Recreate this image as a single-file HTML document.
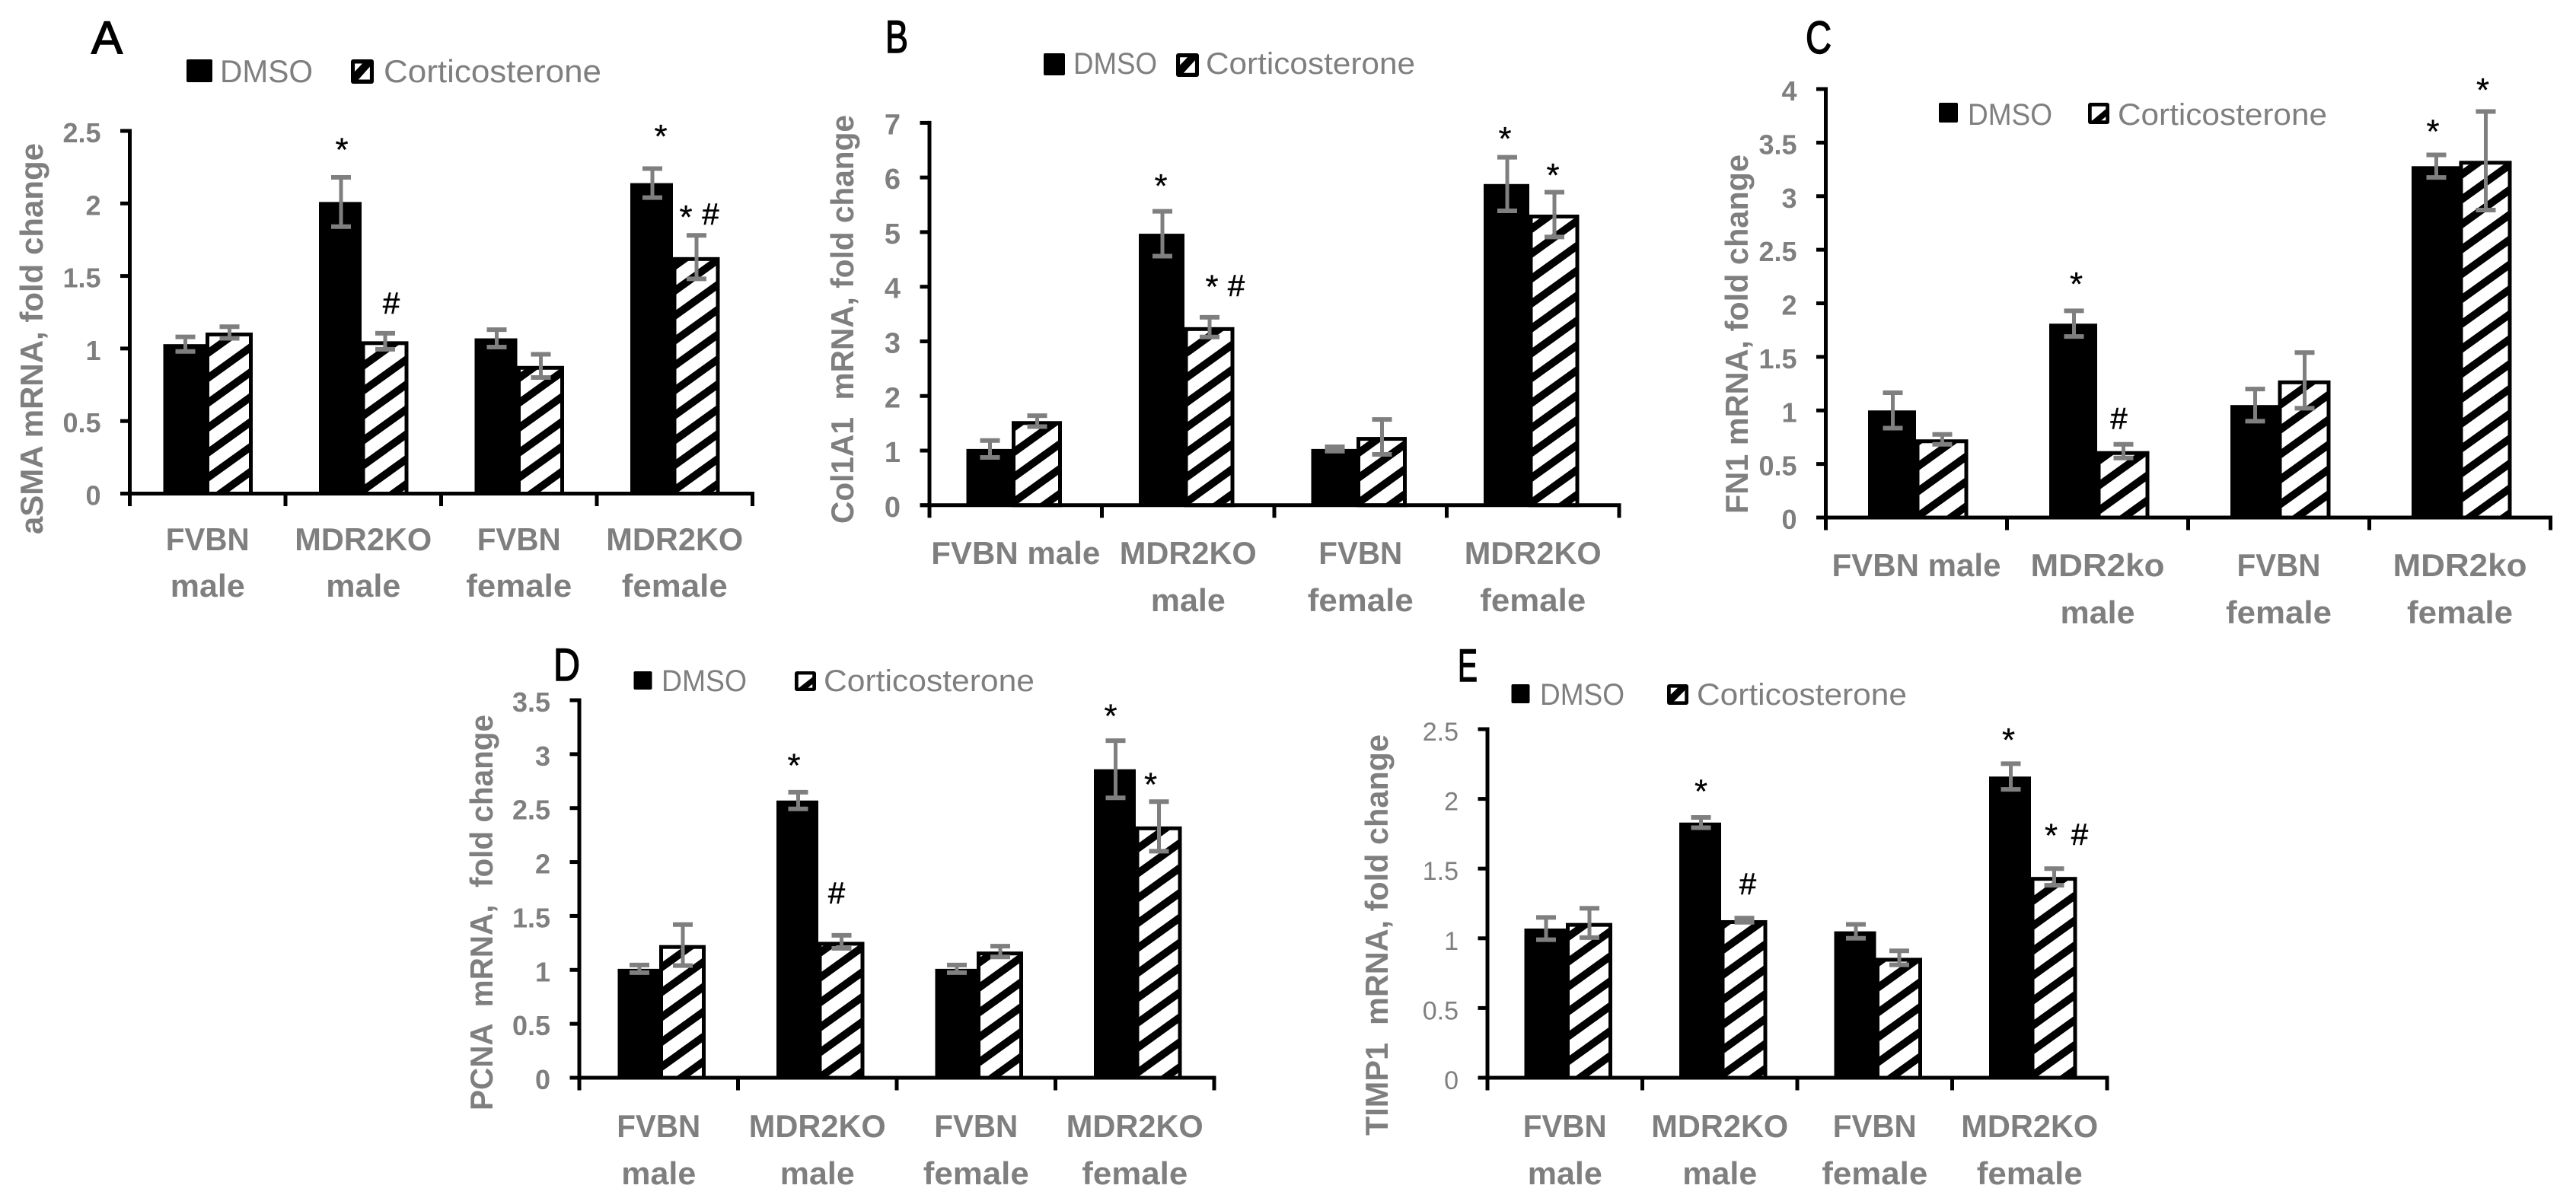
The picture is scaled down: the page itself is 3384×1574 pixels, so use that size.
<!DOCTYPE html>
<html lang="en">
<head>
<meta charset="utf-8">
<title>mRNA fold change charts</title>
<style>
html,body{margin:0;padding:0;background:#fff;}
svg{display:block;font-family:"Liberation Sans",Arial,sans-serif;}
</style>
</head>
<body>
<svg id="figure" xmlns="http://www.w3.org/2000/svg" width="3384" height="1574" viewBox="0 0 3384 1574">
<rect width="3384" height="1574" fill="#ffffff"/>
<defs id="defs"></defs>
</svg>
<script>
// ---------- DATA ----------
const seriesNames = ['DMSO', 'Corticosterone'];

const categoriesA = ['FVBN|male', 'MDR2KO|male', 'FVBN|female', 'MDR2KO|female'];
const dmsoA = [1.03, 2.01, 1.07, 2.14];
const cortA = [1.11, 1.05, 0.88, 1.63];
const dmsoErrA = [0.05, 0.17, 0.06, 0.10];
const cortErrA = [0.04, 0.055, 0.08, 0.15];
const ticksA = [0, 0.5, 1, 1.5, 2, 2.5];
const titleA = 'aSMA mRNA, fold change';

const categoriesB = ['FVBN male', 'MDR2KO|male', 'FVBN|female', 'MDR2KO|female'];
const dmsoB = [1.03, 4.97, 1.03, 5.88];
const cortB = [1.54, 3.26, 1.25, 5.32];
const dmsoErrB = [0.155, 0.41, 0.04, 0.49];
const cortErrB = [0.10, 0.18, 0.32, 0.41];
const ticksB = [0, 1, 2, 3, 4, 5, 6, 7];
const titleB = 'Col1A1  mRNA, fold change';

const categoriesC = ['FVBN male', 'MDR2ko|male', 'FVBN|female', 'MDR2ko|female'];
const dmsoC = [1.0, 1.81, 1.05, 3.28];
const cortC = [0.73, 0.62, 1.28, 3.33];
const dmsoErrC = [0.165, 0.12, 0.15, 0.105];
const cortErrC = [0.046, 0.064, 0.26, 0.46];
const ticksC = [0, 0.5, 1, 1.5, 2, 2.5, 3, 3.5, 4];
const titleC = 'FN1 mRNA, fold change';

const categoriesD = ['FVBN|male', 'MDR2KO|male', 'FVBN|female', 'MDR2KO|female'];
const dmsoD = [1.01, 2.57, 1.01, 2.86];
const cortD = [1.23, 1.26, 1.17, 2.33];
const dmsoErrD = [0.035, 0.077, 0.035, 0.265];
const cortErrD = [0.19, 0.06, 0.05, 0.23];
const ticksD = [0, 0.5, 1, 1.5, 2, 2.5, 3, 3.5];
const titleD = 'PCNA  mRNA,  fold change';

const categoriesE = ['FVBN|male', 'MDR2KO|male', 'FVBN|female', 'MDR2KO|female'];
const dmsoE = [1.07, 1.83, 1.05, 2.16];
const cortE = [1.11, 1.13, 0.86, 1.44];
const dmsoErrE = [0.08, 0.037, 0.05, 0.092];
const cortErrE = [0.105, 0.015, 0.05, 0.06];
const ticksE = [0, 0.5, 1, 1.5, 2, 2.5];
const titleE = 'TIMP1  mRNA, fold change';

// Significance marks: which bar they belong to, and the symbol.
// dx / dy are offsets from the bar centre and its error-bar top.
const marksA = [
  {group:1, series:0, symbol:'*', dx:1, dy:-47},
  {group:1, series:1, symbol:'#', dx:8, dy:-40},
  {group:3, series:0, symbol:'*', dx:11, dy:-53},
  {group:3, series:1, symbol:'*', dx:-14, dy:-35},
  {group:3, series:1, symbol:'#', dx:18.5, dy:-28}
];
const marksB = [
  {group:1, series:0, symbol:'*', dx:-2, dy:-44},
  {group:1, series:1, symbol:'*', dx:3, dy:-51},
  {group:1, series:1, symbol:'#', dx:35, dy:-42},
  {group:3, series:0, symbol:'*', dx:-3, dy:-35},
  {group:3, series:1, symbol:'*', dx:-2, dy:-33}
];
const marksC = [
  {group:1, series:0, symbol:'*', dx:3, dy:-46},
  {group:1, series:1, symbol:'#', dx:-6, dy:-34},
  {group:3, series:0, symbol:'*', dx:-4.5, dy:-41.5},
  {group:3, series:1, symbol:'*', dx:-4, dy:-39}
];
const marksD = [
  {group:1, series:0, symbol:'*', dx:-5.5, dy:-46},
  {group:1, series:1, symbol:'#', dx:-6.5, dy:-56},
  {group:3, series:0, symbol:'*', dx:-6.5, dy:-43},
  {group:3, series:1, symbol:'*', dx:-11, dy:-33}
];
const marksE = [
  {group:1, series:0, symbol:'*', dx:0, dy:-45},
  {group:1, series:1, symbol:'#', dx:4.5, dy:-45},
  {group:3, series:0, symbol:'*', dx:-3, dy:-42},
  {group:3, series:1, symbol:'*', dx:-4, dy:-54},
  {group:3, series:1, symbol:'#', dx:33.5, dy:-45}
];

// ---------- LAYOUT ----------
const layoutA = {x0:170.5, y0:648.5, top:172, catW:204.5, barW:58, off:44, tickFont:36, tickWeight:'bold',
  titleX:56, titleTop:188, titleBottom:702, catY:[723,784], letterX:120, letterY:70, letterW:41,
  legend:{y:78, h:30, sw1:245, sw1w:34, text1:289, text1w:122, sw2:461, sw2w:30, text2:504, text2w:286, textY:108, font:42, swatch:'a'},
  hatchPhase:1053};
const layoutB = {x0:1221, y0:663.8, top:161.4, catW:226.5, barW:62, off:48.5, tickFont:38, tickWeight:'bold',
  titleX:1121, titleTop:151, titleBottom:688, catY:[741,803], letterX:1163, letterY:69, letterW:30,
  legend:{y:70, h:29, sw1:1371, sw1w:28, text1:1410, text1w:110, sw2:1545, sw2w:30, text2:1584, text2w:275, textY:97, font:40, swatch:'a'},
  hatchPhase:1553};
const layoutC = {x0:2398.5, y0:680, top:117, catW:238, barW:65, off:55.5, tickFont:36, tickWeight:'bold',
  titleX:2296, titleTop:203, titleBottom:675, catY:[757,819], letterX:2372, letterY:70, letterW:34,
  legend:{y:135, h:26, sw1:2547, sw1w:25, text1:2585, text1w:111, sw2:2743, sw2w:28, text2:2782, text2w:275, textY:164, font:40, swatch:'c'},
  hatchPhase:2852};
const layoutD = {x0:761, y0:1416, top:920, catW:208.5, barW:57, off:50.5, tickFont:36, tickWeight:'bold',
  titleX:647, titleTop:939, titleBottom:1459, catY:[1494,1556], letterX:727, letterY:894, letterW:35,
  legend:{y:882, h:24, sw1:832.5, sw1w:24, text1:869, text1w:112, sw2:1044, sw2w:28, text2:1082, text2w:277, textY:908, font:40, swatch:'c'},
  hatchPhase:0};
const layoutE = {x0:1954, y0:1416, top:958, catW:203.5, barW:57, off:48.5, tickFont:34, tickWeight:'normal',
  titleX:1823, titleTop:965, titleBottom:1492, catY:[1494,1556], letterX:1915, letterY:895, letterW:26,
  legend:{y:899, h:25, sw1:1985.5, sw1w:24, text1:2023, text1w:111, sw2:2190, sw2w:28, text2:2229, text2w:276, textY:926, font:40, swatch:'a'},
  hatchPhase:0};

const labelWidths = {'FVBN':110, 'MDR2KO':180, 'MDR2ko':176, 'male':98, 'female':139, 'FVBN male':222};

const panels = [
  {id:'A', categories:categoriesA, dmso:dmsoA, cort:cortA, dmsoErr:dmsoErrA, cortErr:cortErrA, ticks:ticksA, title:titleA, marks:marksA, layout:layoutA},
  {id:'B', categories:categoriesB, dmso:dmsoB, cort:cortB, dmsoErr:dmsoErrB, cortErr:cortErrB, ticks:ticksB, title:titleB, marks:marksB, layout:layoutB},
  {id:'C', categories:categoriesC, dmso:dmsoC, cort:cortC, dmsoErr:dmsoErrC, cortErr:cortErrC, ticks:ticksC, title:titleC, marks:marksC, layout:layoutC},
  {id:'D', categories:categoriesD, dmso:dmsoD, cort:cortD, dmsoErr:dmsoErrD, cortErr:cortErrD, ticks:ticksD, title:titleD, marks:marksD, layout:layoutD},
  {id:'E', categories:categoriesE, dmso:dmsoE, cort:cortE, dmsoErr:dmsoErrE, cortErr:cortErrE, ticks:ticksE, title:titleE, marks:marksE, layout:layoutE}
];

// ---------- DRAWING ----------
const NS = 'http://www.w3.org/2000/svg';
const GRAY = '#7f7f7f';
const HATCH_PERIOD = 32.7;
const HATCH_SLOPE = 0.72;
const HATCH_WIDTH = 10;
const svg = document.getElementById('figure');
const defs = document.getElementById('defs');
let clipCount = 0;

function make(tag, attrs, parent, text) {
  const el = document.createElementNS(NS, tag);
  for (const k in attrs) el.setAttribute(k, attrs[k]);
  if (text !== undefined) el.textContent = text;
  parent.appendChild(el);
  return el;
}

function drawHatchedBar(parent, x, y, w, h, phase, index) {
  const g = make('g', {}, parent);
  
  
  const clipId = 'barclip' + (++clipCount);
  const clip = make('clipPath', {id:clipId}, defs);
  make('rect', {x:x, y:y, width:w, height:h}, clip);
  make('rect', {x:x, y:y, width:w, height:h, fill:'#fff'}, g);
  const stripes = make('g', {'clip-path':'url(#' + clipId + ')', stroke:'#000', 'stroke-width':HATCH_WIDTH}, g);
  // stripe y at left edge of the bar: phase + k * period - slope * x
  const start = phase - HATCH_SLOPE * x;
  const kMin = Math.floor((y - start) / HATCH_PERIOD) - 1;
  const kMax = Math.ceil((y + h + HATCH_SLOPE * w - start) / HATCH_PERIOD) + 1;
  for (let k = kMin; k <= kMax; k++) {
    const yl = start + k * HATCH_PERIOD;
    make('line', {x1:x - 10, y1:yl + 10 * HATCH_SLOPE, x2:x + w + 10, y2:yl - (w + 10) * HATCH_SLOPE}, stripes);
  }
  make('rect', {x:x, y:y, width:w, height:h, fill:'none', stroke:'#000', 'stroke-width':5}, g);
}

function drawSwatch(g, x, y, w, h, kind) {
  const s = make('g', {}, g);
  
  
  make('rect', {x:x, y:y, width:w, height:h, rx:3, fill:'#000'}, s);
  const pts = function (a) { return a.map(function (q) { return (x + q[0] * w) + ',' + (y + q[1] * h); }).join(' '); };
  if (kind === 'a') {
    make('polygon', {points:pts([[0.17,0.17],[0.5,0.17],[0.17,0.5]]), fill:'#fff'}, s);
    make('polygon', {points:pts([[0.83,0.3],[0.83,0.83],[0.33,0.83]]), fill:'#fff'}, s);
  } else {
    make('polygon', {points:pts([[0.17,0.17],[0.83,0.17],[0.83,0.3],[0.2,0.83],[0.17,0.83]]), fill:'#fff'}, s);
    make('polygon', {points:pts([[0.83,0.65],[0.83,0.83],[0.62,0.83]]), fill:'#fff'}, s);
  }
}

function drawPanel(panel) {
  const L = panel.layout;
  const yMax = panel.ticks[panel.ticks.length - 1];
  const yScale = function (v) { return L.y0 - (v / yMax) * (L.y0 - L.top); };
  const barX = function (group, series) { return L.x0 + L.off + group * L.catW + series * L.barW; };
  const catCenter = function (group) { return L.x0 + (group + 0.5) * L.catW; };

  const g = make('g', {}, svg);
  
  

  // panel letter
  const letter = make('text', {x:L.letterX, y:L.letterY, 'font-size':60, fill:'#000', stroke:'#000', 'stroke-width':1.5, textLength:L.letterW, lengthAdjust:'spacingAndGlyphs'}, g, panel.id);
  
  

  // legend
  const lg = L.legend;
  const legend = make('g', {}, g);
  
  
  const sw1 = make('rect', {x:lg.sw1, y:lg.y, width:lg.sw1w, height:lg.h, rx:2, fill:'#000'}, legend);
  
  
  const t1 = make('text', {x:lg.text1, y:lg.textY, 'font-size':lg.font, fill:GRAY, textLength:lg.text1w, lengthAdjust:'spacingAndGlyphs'}, legend, seriesNames[0]);
  
  
  drawSwatch(legend, lg.sw2, lg.y, lg.sw2w, lg.h + 2, lg.swatch);
  const t2 = make('text', {x:lg.text2, y:lg.textY, 'font-size':lg.font, fill:GRAY, textLength:lg.text2w, lengthAdjust:'spacingAndGlyphs'}, legend, seriesNames[1]);
  
  

  // y axis title
  const title = make('text', {x:L.titleX, y:L.titleBottom, 'font-size':42, 'font-weight':'bold', fill:GRAY, style:'white-space:pre',
    textLength:L.titleBottom - L.titleTop, lengthAdjust:'spacingAndGlyphs',
    transform:'rotate(-90 ' + L.titleX + ' ' + L.titleBottom + ')'}, g, panel.title);
  
  

  // bars
  panel.categories.forEach(function (cat, i) {
    const d = panel.dmso[i], c = panel.cort[i];
    const hatchTop = yScale(c) + 2.5;
    drawHatchedBar(g, barX(i, 1), hatchTop, L.barW - 1, L.y0 - hatchTop, L.hatchPhase, i + 1);
    const b1 = make('rect', {x:barX(i, 0), y:yScale(d), width:L.barW - 2, height:L.y0 - yScale(d), fill:'#000'}, g);
    
    
  });

  // axes
  const axes = make('g', {stroke:'#000', 'stroke-width':5, fill:'none'}, g);
  
  
  make('line', {x1:L.x0, y1:L.top - 2.5, x2:L.x0, y2:L.y0 + 16.5}, axes);
  make('line', {x1:L.x0 - 12.5, y1:L.y0, x2:L.x0 + 4 * L.catW + 2.5, y2:L.y0}, axes);
  for (let i = 1; i <= 4; i++) {
    make('line', {x1:L.x0 + i * L.catW, y1:L.y0, x2:L.x0 + i * L.catW, y2:L.y0 + 16.5}, axes);
  }
  panel.ticks.forEach(function (t) {
    make('line', {x1:L.x0 - 12.5, y1:yScale(t), x2:L.x0, y2:yScale(t)}, axes);
    const label = make('text', {x:L.x0 - 38, y:yScale(t) + 15, 'text-anchor':'end', 'font-size':L.tickFont,
      'font-weight':L.tickWeight, fill:GRAY, stroke:'none'}, g, String(t));
    
    
  });

  // category labels
  panel.categories.forEach(function (cat, i) {
    cat.split('|').forEach(function (word, lineIdx) {
      const w = labelWidths[word];
      const label = make('text', {x:catCenter(i) - w / 2, y:L.catY[lineIdx], 'font-size':42, 'font-weight':'bold', fill:GRAY,
        textLength:w, lengthAdjust:'spacingAndGlyphs'}, g, word);
      
      
    });
  });

  // error bars
  function errorBar(group, series, value, err) {
    const cx = barX(group, series) + L.barW / 2;
    const eg = make('g', {stroke:GRAY, fill:'none'}, g);
    
    
    make('line', {x1:cx, y1:yScale(value + err), x2:cx, y2:yScale(value - err), 'stroke-width':5}, eg);
    make('line', {x1:cx - 13, y1:yScale(value + err), x2:cx + 13, y2:yScale(value + err), 'stroke-width':6}, eg);
    make('line', {x1:cx - 13, y1:yScale(value - err), x2:cx + 13, y2:yScale(value - err), 'stroke-width':6}, eg);
  }
  panel.categories.forEach(function (cat, i) {
    errorBar(i, 0, panel.dmso[i], panel.dmsoErr[i]);
    errorBar(i, 1, panel.cort[i], panel.cortErr[i]);
  });

  // significance marks
  panel.marks.forEach(function (m) {
    const value = m.series === 0 ? panel.dmso[m.group] : panel.cort[m.group];
    const err = m.series === 0 ? panel.dmsoErr[m.group] : panel.cortErr[m.group];
    const cx = barX(m.group, m.series) + L.barW / 2 + m.dx;
    const cy = yScale(value + err) + m.dy;
    const isStar = m.symbol === '*';
    const size = isStar ? 44 : 40;
    const baseline = cy + (isStar ? 0.58 * size : 0.35 * size);
    const mark = make('text', {x:cx, y:baseline, 'text-anchor':'middle', 'font-size':size, fill:'#000', stroke:'#000', 'stroke-width':isStar ? 0.3 : 0.6}, g, m.symbol);
    
    
  });
}

panels.forEach(drawPanel);
</script>
</body>
</html>
